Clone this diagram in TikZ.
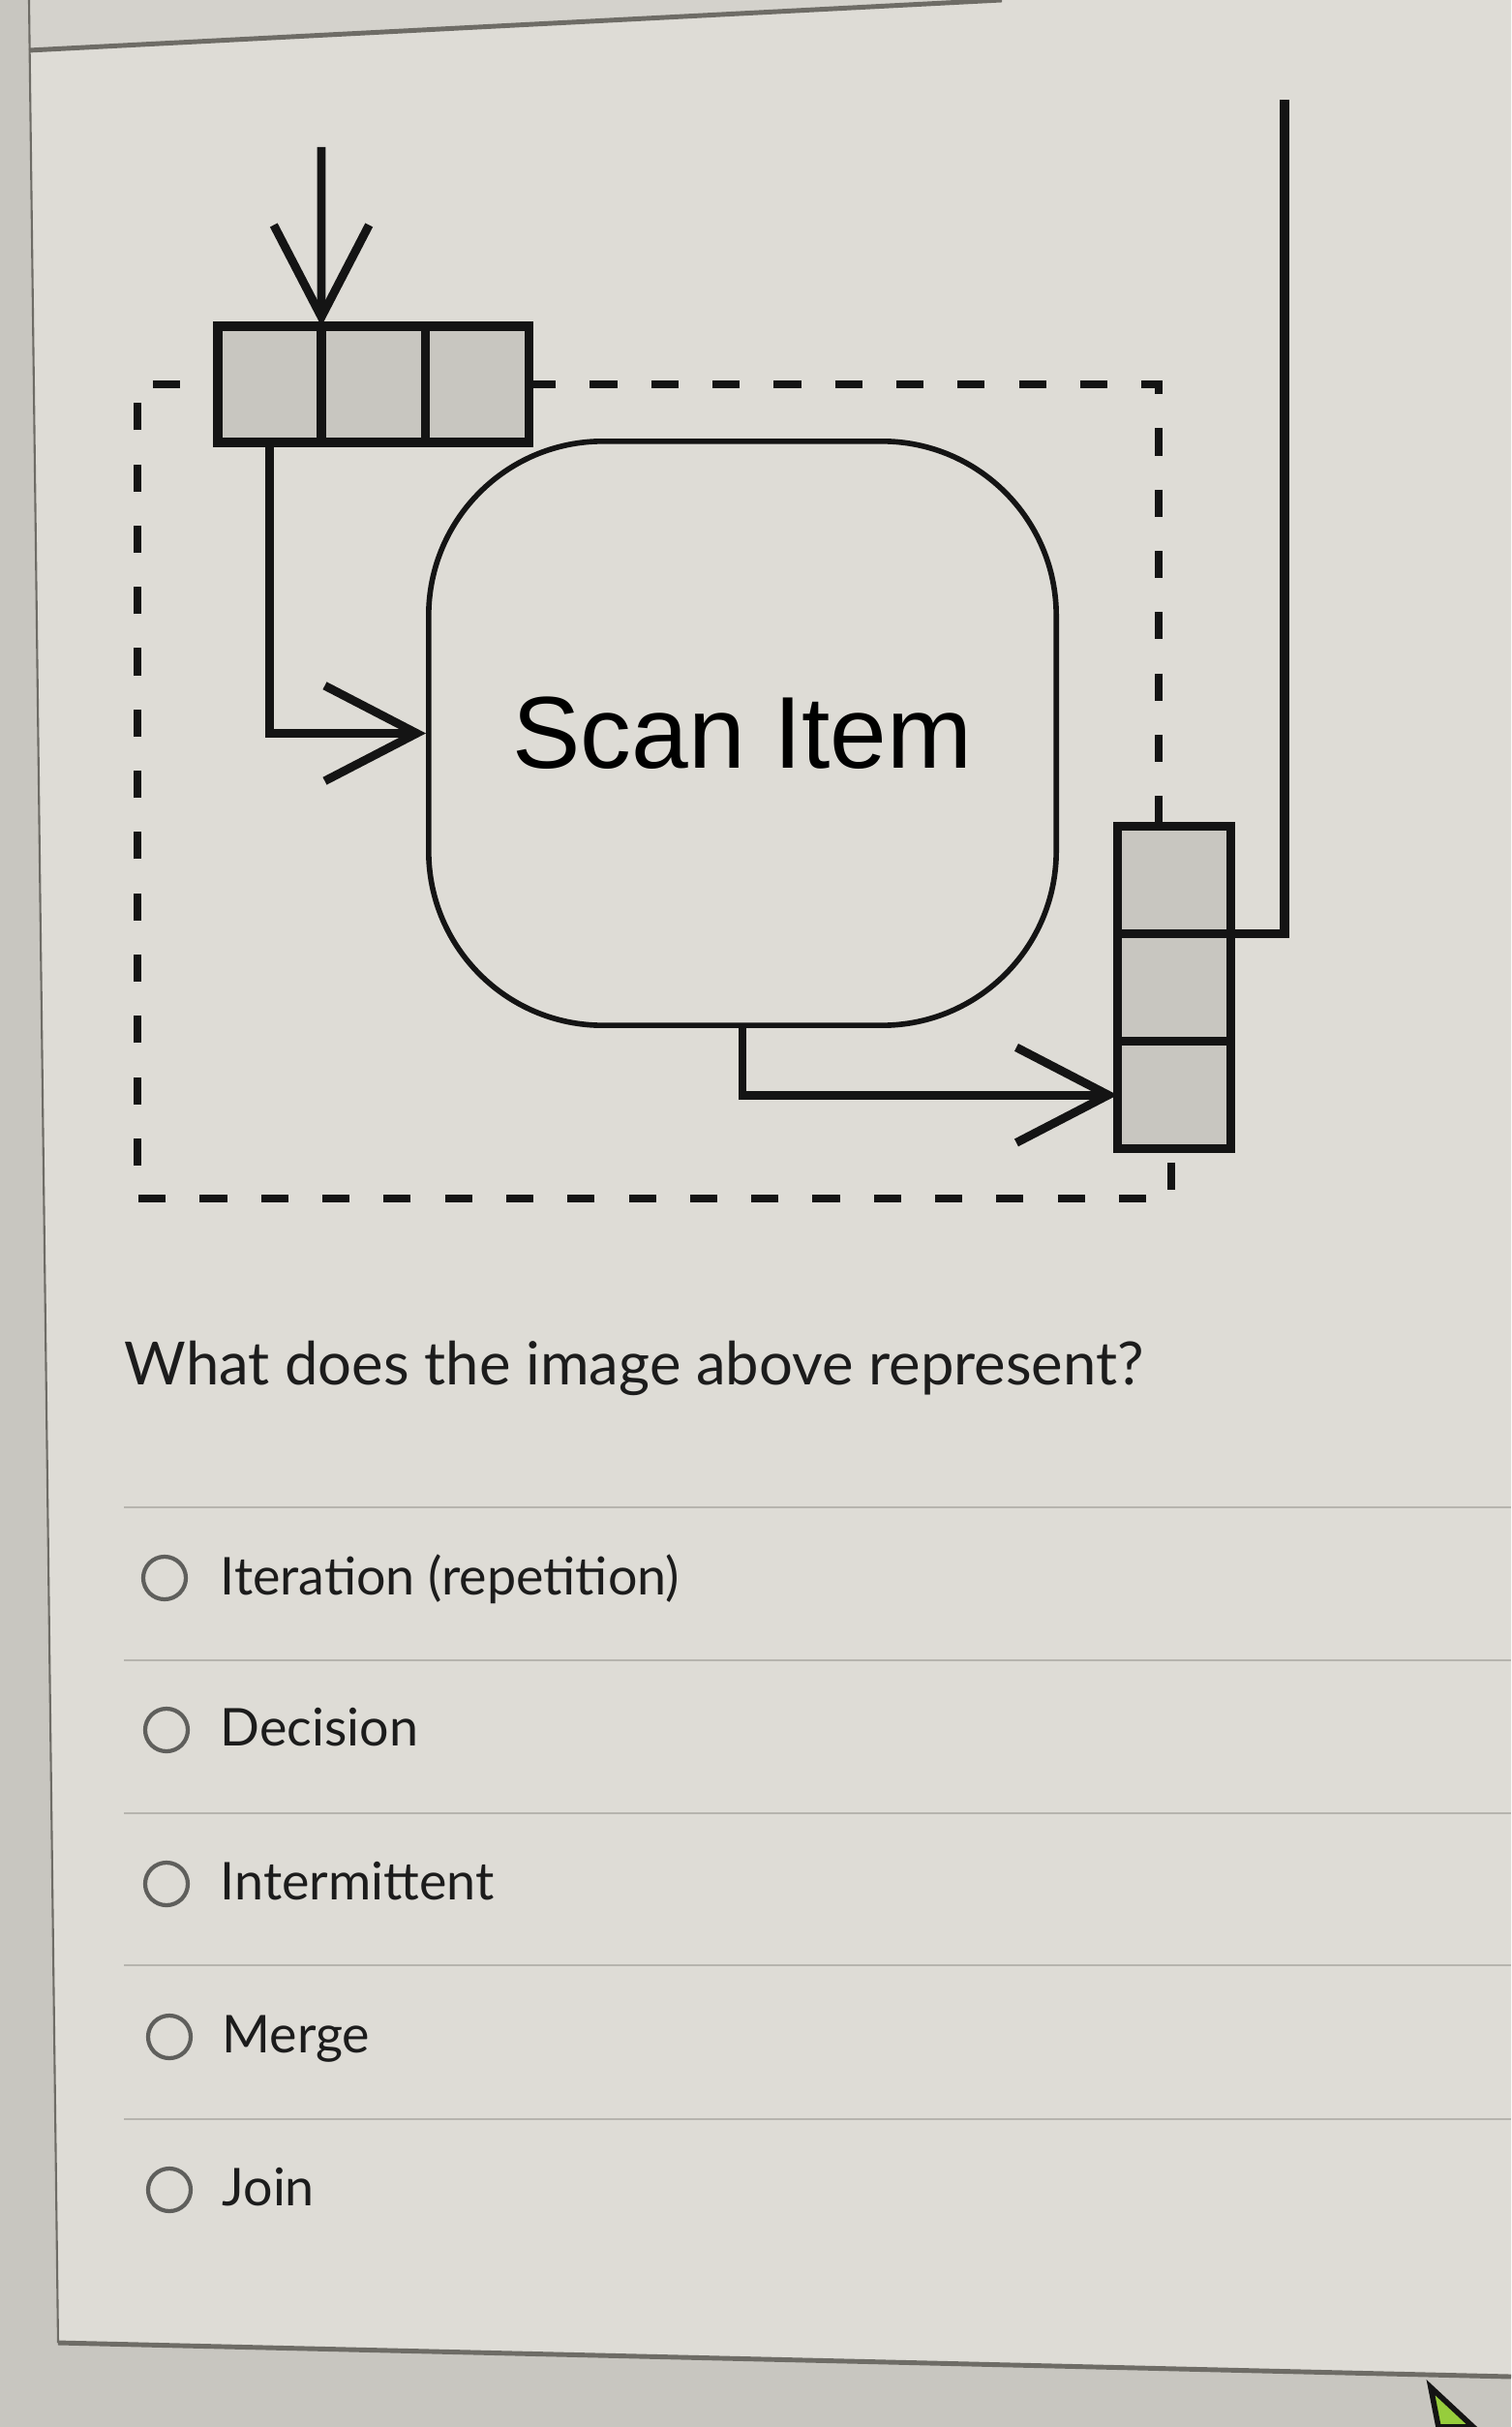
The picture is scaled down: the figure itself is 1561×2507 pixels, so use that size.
\documentclass[tikz,border=0pt]{standalone}
\usepackage{fontspec}
\setmainfont{Lato}
\newfontfamily\boxfont{Liberation Sans}
\usetikzlibrary{positioning,arrows.meta}

\definecolor{outside}{RGB}{200,198,192}
\definecolor{card}{RGB}{222,220,214}
\definecolor{toppanel}{RGB}{212,210,204}
\definecolor{edge}{RGB}{110,108,102}
\definecolor{ink}{RGB}{20,20,20}
\definecolor{cellgray}{RGB}{200,198,192}
\definecolor{textgray}{RGB}{28,28,28}
\definecolor{sepgray}{RGB}{182,180,174}
\definecolor{radiogray}{RGB}{95,95,92}
\definecolor{cursorgreen}{RGB}{150,205,60}

\begin{document}
\begin{tikzpicture}[x=0.01cm, y=-0.01cm,
    cell/.style={draw=ink, fill=cellgray, line width=2.6pt, minimum width=1.07cm,
        minimum height=1.2cm, inner sep=0pt, outer sep=0pt},
    vcell/.style={cell, minimum width=1.17cm, minimum height=1.11cm},
    flow/.style={draw=ink, line width=2.5pt, -{Straight Barb[length=27pt,width=28pt]}},
    wire/.style={draw=ink, line width=2.8pt},
    loopline/.style={draw=ink, line width=2.5pt, dash pattern=on 8pt off 10pt},
    task/.style={draw=ink, line width=1.6pt, rounded corners=1.8cm, minimum width=6.48cm,
        minimum height=6.03cm, inner sep=0pt, font=\boxfont\fontsize{30}{36}\selectfont},
    radio/.style={circle, draw=radiogray, line width=1.2pt, minimum size=0.44cm, inner sep=0pt},
    answer/.style={anchor=base west, inner sep=0pt, text=textgray, font=\fontsize{15.3}{18}\selectfont},
    sep/.style={draw=sepgray, line width=0.8pt}]

    \useasboundingbox (0,0) rectangle (1561,2507);

    % screen and page
    \fill[outside] (0,0) rectangle (1561,2507);
    \fill[toppanel] (30,0) -- (1035,0) -- (30,52) -- cycle;
    \fill[card] (30,52) -- (1035,0) -- (1561,0) -- (1561,2455) -- (60,2420) -- cycle;
    \draw[edge, line width=1.4pt] (30,52) -- (1035,0);
    \draw[edge, line width=0.6pt] (30,0) -- (60,2420);
    \draw[edge, line width=1.4pt] (60,2420) -- (1561,2455);

    % queues and task
    \node[cell] (in1) at (278.5,397) {};
    \node[cell, right=0pt of in1] (in2) {};
    \node[cell, right=0pt of in2] (in3) {};

    \node[task] (scan) at (767,757.5) {Scan Item};

    \node[vcell] (out1) at (1213,909) {};
    \node[vcell, below=0pt of out1] (out2) {};
    \node[vcell, below=0pt of out2] (out3) {};

    \coordinate (src) at (332,152);
    \coordinate (exit) at (1327,103);
    \coordinate (tr) at (1197,397);
    \coordinate (br) at (1210,1238);
    \coordinate (bl) at (142,1238);

    \draw[flow] (src) -- (in1.north east);
    \draw[flow] (in1.south) |- (scan.west);
    \draw[flow] (scan.south) |- (out3.west);
    \draw[wire] (out1.south east) -| (exit);

    % loop boundary
    \draw[loopline] (in3.east) -- (tr) -- (tr |- out1.north);
    \draw[loopline] (br |- out3.south) ++(0,14) -- (br) -- (bl) -- (bl |- in1.west) -- (in1.west);

    % question
    \node[anchor=base west, inner sep=0pt, text=textgray, font=\fontsize{17.5}{20}\selectfont]
        (question) at (128,1430) {What does the image above represent?};

    \draw[sep] (128,1557) -- (1561,1557);
    \draw[sep] (128,1715) -- (1561,1715);
    \draw[sep] (128,1873) -- (1561,1873);
    \draw[sep] (128,2030) -- (1561,2030);
    \draw[sep] (128,2189) -- (1561,2189);

    \node[radio] (r1) at (170,1630) {};
    \node[answer] (a1) at (227,1647) {Iteration (repetition)};
    \node[radio] (r2) at (172,1787) {};
    \node[answer] (a2) at (227,1803) {Decision};
    \node[radio] (r3) at (172,1946) {};
    \node[answer] (a3) at (227,1962) {Intermittent};
    \node[radio] (r4) at (175,2104) {};
    \node[answer] (a4) at (229,2120) {Merge};
    \node[radio] (r5) at (175,2262) {};
    \node[answer] (a5) at (229,2278) {Join};

    % pointer
    \filldraw[fill=cursorgreen, draw=ink, line width=1.6pt] (1478,2466) -- (1486,2507) -- (1522,2507) -- cycle;
\end{tikzpicture}
\end{document}
